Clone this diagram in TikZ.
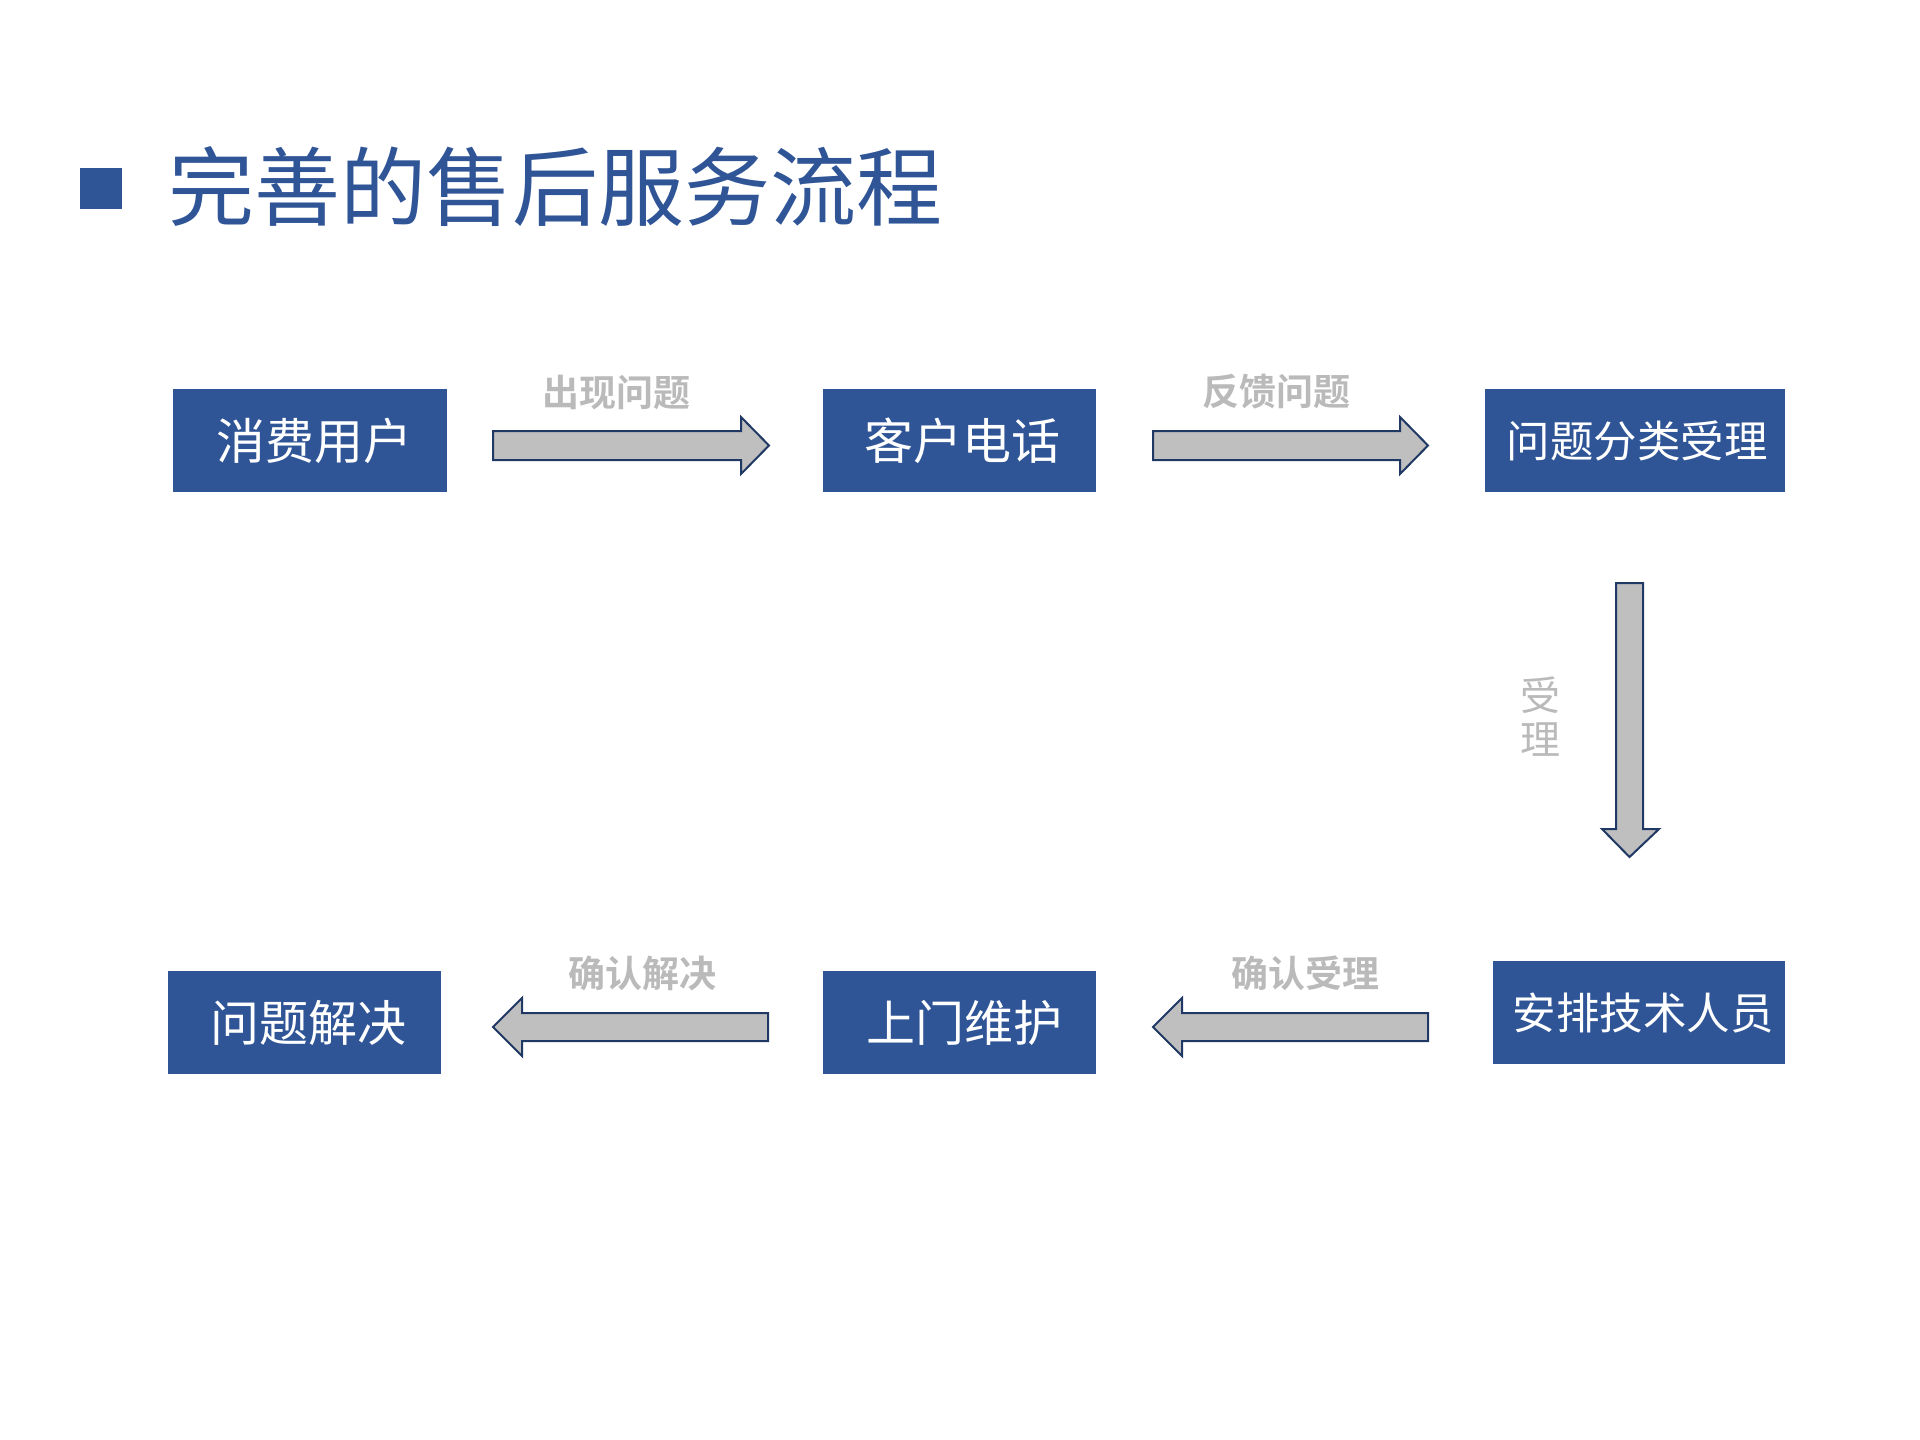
\documentclass[tikz,border=0pt]{standalone}
\usepackage{fontspec}
\newfontfamily\cjk{Noto Sans CJK SC}
\newfontfamily\cjkb{Noto Sans CJK SC Bold}
\definecolor{boxblue}{RGB}{47,85,151}
\definecolor{edgeblue}{RGB}{32,56,100}
\definecolor{arrgray}{RGB}{191,191,191}
\definecolor{lblgray}{RGB}{186,186,186}
\begin{document}
\begin{tikzpicture}[x=1pt,y=-1pt,
  stepbox/.style={fill=boxblue,draw=none,text=white,inner sep=0pt,anchor=north west,minimum height=103pt},
  bigtxt/.style={font=\cjk\fontsize{49}{52}\selectfont},
  smalltxt/.style={font=\cjk\fontsize{43.5}{46}\selectfont},
  lbl/.style={text=lblgray,font=\cjkb\fontsize{37}{40}\selectfont,inner sep=0pt},
  blockarrow/.style={fill=arrgray,draw=edgeblue,line width=2pt,line join=miter}]
\useasboundingbox (0,0) rectangle (1920,1440);
% title
\fill[boxblue] (80,168) rectangle (122,209);
\node[text=boxblue,font=\cjk\fontsize{86}{92}\selectfont,anchor=west,inner sep=0pt] (title) at (168,187) {完善的售后服务流程};
% boxes
\node[stepbox,bigtxt,minimum width=274pt] (b1) at (173,389) {\hspace*{8pt}消费用户};
\node[stepbox,bigtxt,minimum width=273pt] (b2) at (823,389) {\hspace*{6pt}客户电话};
\node[stepbox,smalltxt,minimum width=300pt] (b3) at (1485,389) {\hspace*{4pt}问题分类受理};
\node[stepbox,smalltxt,minimum width=292pt] (b4) at (1493,961) {\hspace*{8pt}安排技术人员};
\node[stepbox,bigtxt,minimum width=273pt] (b5) at (823,971) {\hspace*{10pt}上门维护};
\node[stepbox,bigtxt,minimum width=273pt] (b6) at (168,971) {\hspace*{8pt}问题解决};
% arrows
\draw[blockarrow] (493,431) -- (741,431) -- (741,417) -- (769,445.5) -- (741,474) -- (741,460) -- (493,460) -- cycle;
\draw[blockarrow] (1153,431) -- (1400,431) -- (1400,417) -- (1428,445.5) -- (1400,474) -- (1400,460) -- (1153,460) -- cycle;
\draw[blockarrow] (1616,583) -- (1643,583) -- (1643,829) -- (1659,829) -- (1629.5,857) -- (1602,829) -- (1616,829) -- cycle;
\draw[blockarrow] (1428,1013) -- (1182,1013) -- (1182,998) -- (1153,1027) -- (1182,1056) -- (1182,1041) -- (1428,1041) -- cycle;
\draw[blockarrow] (768,1013) -- (522,1013) -- (522,998) -- (493,1027) -- (522,1056) -- (522,1041) -- (768,1041) -- cycle;
% labels
\node[lbl] (l1) at (616,392) {出现问题};
\node[lbl] (l2) at (1276,392) {反馈问题};
\node[text=lblgray,font=\cjk\fontsize{40}{44}\selectfont,inner sep=0pt,align=center] (l3) at (1540,717) {受\\理};
\node[lbl] (l4) at (1305,973) {确认受理};
\node[lbl] (l5) at (642,973) {确认解决};
\end{tikzpicture}
\end{document}
